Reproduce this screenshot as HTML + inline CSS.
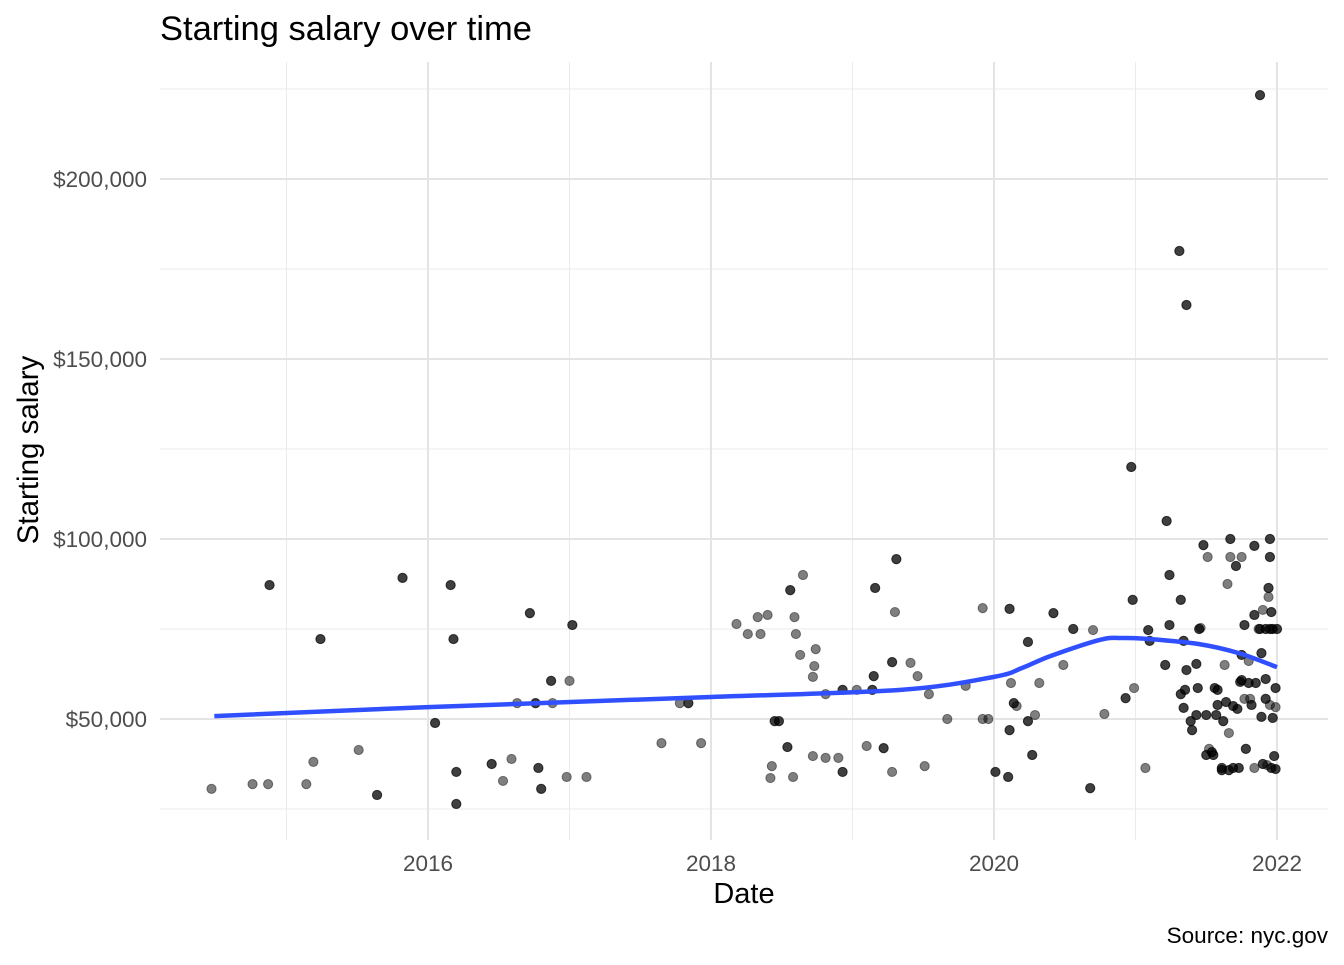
<!DOCTYPE html>
<html><head><meta charset="utf-8"><style>
body{margin:0;background:#fff;font-family:"Liberation Sans",sans-serif}
svg text{font-family:"Liberation Sans",sans-serif}
</style></head><body>
<svg id="chart" width="1344" height="960" xmlns="http://www.w3.org/2000/svg">
<text x="160" y="40" font-size="34.5" fill="#000">Starting salary over time</text>
<g id="grid"></g>
<g id="pts"></g>
<path id="smooth" fill="none" stroke="#3050ff" stroke-width="4.5"/>
<g id="axes"></g>
<text x="744" y="903" font-size="29" text-anchor="middle">Date</text>
<text transform="translate(38,450) rotate(-90)" font-size="29.5" text-anchor="middle">Starting salary</text>
<text x="1328" y="943" font-size="22.5" text-anchor="end">Source: nyc.gov</text>
</svg>
<script>
const years=[2014.47,2014.76,2014.87,2014.88,2015.14,2015.19,2015.24,2015.51,2015.64,2015.82,2016.05,2016.16,2016.18,2016.2,2016.2,2016.45,2016.53,2016.59,2016.63,2016.72,2016.76,2016.78,2016.8,2016.87,2016.88,2016.98,2017.0,2017.02,2017.12,2017.65,2017.78,2017.84,2017.93,2018.18,2018.26,2018.33,2018.35,2018.4,2018.42,2018.43,2018.45,2018.48,2018.54,2018.56,2018.58,2018.59,2018.6,2018.63,2018.65,2018.72,2018.73,2018.74,2018.72,2018.81,2018.81,2018.9,2018.93,2018.93,2019.03,2019.1,2019.14,2019.15,2019.16,2019.22,2019.28,2019.28,2019.3,2019.31,2019.41,2019.46,2019.51,2019.54,2019.67,2019.8,2019.92,2019.92,2019.96,2020.01,2020.1,2020.11,2020.11,2020.12,2020.14,2020.16,2020.24,2020.24,2020.27,2020.29,2020.32,2020.42,2020.49,2020.56,2020.68,2020.7,2020.78,2020.93,2020.97,2020.98,2020.99,2021.07,2021.09,2021.1,2021.21,2021.22,2021.24,2021.24,2021.31,2021.32,2021.34,2021.36,2021.36,2021.32,2021.34,2021.35,2021.39,2021.4,2021.43,2021.44,2021.45,2021.43,2021.46,2021.48,2021.5,2021.5,2021.51,2021.54,2021.56,2021.57,2021.58,2021.52,2021.61,2021.62,2021.64,2021.65,2021.66,2021.69,2021.66,2021.63,2021.67,2021.67,2021.71,2021.72,2021.74,2021.75,2021.75,2021.78,2021.77,2021.8,2021.75,2021.77,2021.8,2021.81,2021.82,2021.84,2021.84,2021.85,2021.87,2021.88,2021.88,2021.89,2021.9,2021.92,2021.92,2021.92,2021.93,2021.94,2021.94,2021.95,2021.95,2021.95,2021.95,2021.96,2021.96,2021.97,2021.98,2021.99,2021.99,2021.99,2021.97,2022.0,2021.9,2021.84,2021.73,2021.69,2021.61,2021.89,2021.58,2021.55];
const salaries=[30.6,31.9,31.9,87.2,31.9,38.1,72.2,41.4,28.9,89.2,48.9,87.2,72.2,35.3,26.4,37.5,32.8,38.9,54.4,79.4,54.4,36.4,30.6,60.6,54.4,33.9,60.6,76.1,33.9,43.3,54.4,54.4,43.3,76.4,73.6,78.3,73.6,78.9,33.6,36.9,49.4,49.4,42.2,85.8,33.9,78.3,73.6,67.8,90,61.7,64.7,69.4,39.7,56.9,39.2,39.2,58.1,35.3,58.1,42.5,58.1,61.9,86.4,41.9,35.3,65.8,79.7,94.4,65.6,61.9,36.9,56.9,50,59.2,80.8,50,50,35.3,33.9,80.6,46.9,60,54.4,53.6,49.4,71.4,40,51.1,60,79.4,65,75,30.8,74.7,51.4,55.8,120,83.1,58.6,36.4,74.7,71.7,65,105,90,76.1,180,83.1,71.7,165,63.6,56.9,53.1,58.1,49.4,46.9,65.3,58.6,75,51.1,75.3,98.3,51.1,40,95,40.8,58.6,51.1,53.9,41.7,35.8,49.4,54.7,87.5,35.8,53.6,46.1,65,100,95,92.5,52.8,60.3,95,60.8,41.7,55.6,60,67.8,76.1,66.1,55.6,53.9,98.1,78.9,60,75,75,223.3,68.3,80.3,75,61.1,55.6,37.2,83.9,86.4,100,95,75,53.9,79.7,36.4,50.3,39.7,36.1,58.6,53.3,75,75,37.5,36.4,36.4,36.4,36.4,50.6,58.1,40];
const overlap=[1,1,1,2,1,1,2,1,2,2,2,2,2,2,2,2,1,1,1,2,2,2,2,2,1,1,1,2,1,1,1,2,1,1,1,1,1,1,1,1,2,2,2,2,1,1,1,1,1,1,1,1,1,1,1,1,2,2,1,1,2,2,2,2,1,2,1,2,1,1,1,1,1,1,1,1,1,2,2,2,2,1,2,1,2,2,2,1,1,2,1,2,2,1,1,2,2,2,1,1,2,2,2,2,2,2,2,2,2,2,2,2,2,2,2,2,2,2,2,2,1,2,2,2,1,2,2,2,2,1,2,2,2,1,2,2,1,1,2,1,2,2,2,1,2,2,1,2,2,2,1,1,2,2,2,2,1,2,2,2,1,2,2,2,1,1,2,2,2,2,1,2,2,2,2,2,2,1,2,2,2,1,2,2,2,2,2,2,2,2,1,2];
const smoothYears=[2014.49,2016,2018,2019.34,2020,2020.2,2020.4,2020.75,2020.9,2021.1,2021.45,2021.73,2022];
const smoothVals=[50.8,53.3,56.1,58.1,61.7,64.2,67.5,72.0,72.5,72.2,70.8,68.3,64.4];
const xMajor=[2016,2018,2020,2022];
const xMinor=[2015,2017,2019,2021];
const yMajor=[50,100,150,200];
const yMinor=[25,75,125,175,225];
const yLabels=["$50,000","$100,000","$150,000","$200,000"];

const X=y=>428+(y-2016)*141.5;
const Y=v=>719-(v-50)*3.6;
const ns="http://www.w3.org/2000/svg";
function mk(tag,attrs,parent){const e=document.createElementNS(ns,tag);for(const k in attrs)e.setAttribute(k,attrs[k]);parent.appendChild(e);return e;}
const grid=document.getElementById('grid');
xMinor.forEach(v=>{const l=mk('line',{x1:X(v),x2:X(v),y1:62,y2:840,stroke:'#ebebeb','stroke-width':1},grid);

});
yMinor.forEach(v=>{const l=mk('line',{x1:160,x2:1328,y1:Y(v),y2:Y(v),stroke:'#ebebeb','stroke-width':1},grid);

});
xMajor.forEach(v=>{const l=mk('line',{x1:X(v),x2:X(v),y1:62,y2:840,stroke:'#e4e4e4','stroke-width':2},grid);

});
yMajor.forEach(v=>{const l=mk('line',{x1:160,x2:1328,y1:Y(v),y2:Y(v),stroke:'#e4e4e4','stroke-width':2},grid);

});
const axes=document.getElementById('axes');
xMajor.forEach(v=>{const t=mk('text',{x:X(v),y:871,'font-size':22.5,fill:'#4d4d4d','text-anchor':'middle'},axes);t.textContent=String(v);

});
yMajor.forEach((v,i)=>{const t=mk('text',{x:147,y:Y(v)+8,'font-size':22.5,fill:'#4d4d4d','text-anchor':'end'},axes);t.textContent=yLabels[i];

});
const pts=document.getElementById('pts');
years.forEach((yr,i)=>{for(let k=0;k<overlap[i];k++){const c=mk('circle',{cx:X(yr),cy:Y(salaries[i]),r:4.6,fill:'rgba(0,0,0,0.5)',stroke:'rgba(0,0,0,0.45)','stroke-width':1},pts);

}});
const P=smoothYears.map((y,i)=>[X(y),Y(smoothVals[i])]);
let d='M'+P[0][0]+','+P[0][1];
for(let i=0;i<P.length-1;i++){const p0=P[i-1]||P[i],p1=P[i],p2=P[i+1],p3=P[i+2]||p2;
d+=` C${p1[0]+(p2[0]-p0[0])/6},${p1[1]+(p2[1]-p0[1])/6} ${p2[0]-(p3[0]-p1[0])/6},${p2[1]-(p3[1]-p1[1])/6} ${p2[0]},${p2[1]}`;}
document.getElementById('smooth').setAttribute('d',d);
</script>
</body></html>
